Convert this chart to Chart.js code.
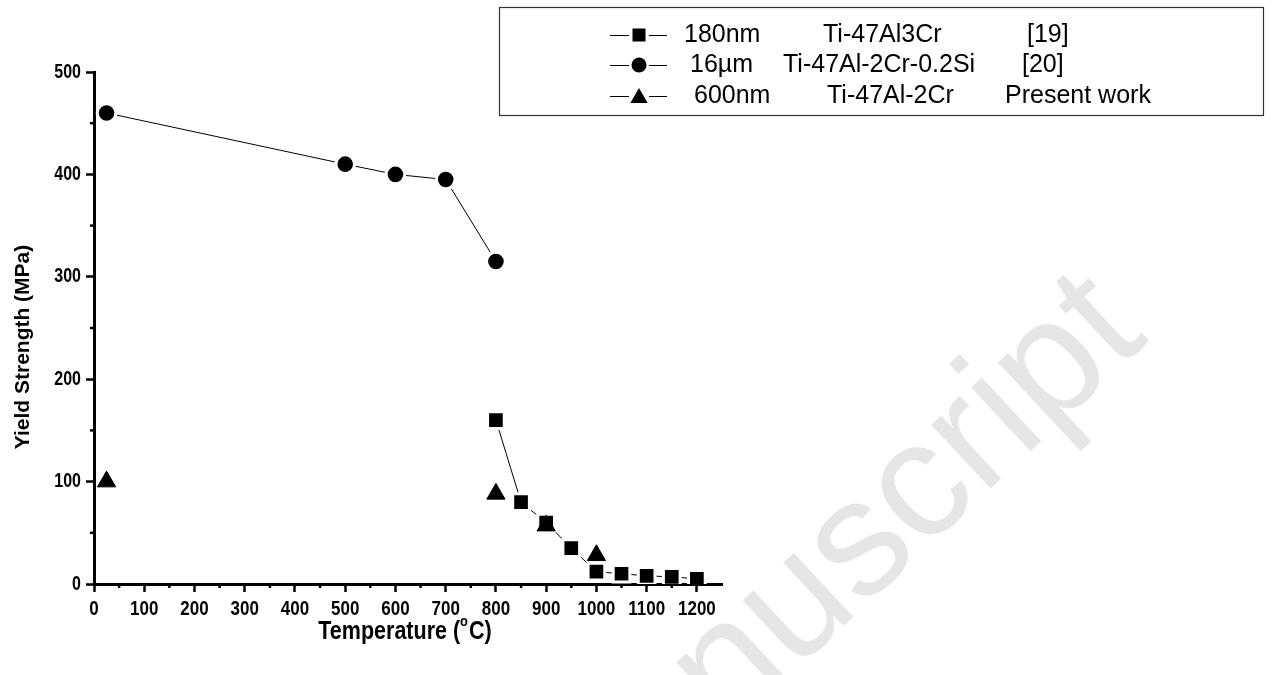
<!DOCTYPE html>
<html>
<head>
<meta charset="utf-8">
<script src="https://cdn.jsdelivr.net/npm/chart.js@4.4.1/dist/chart.umd.min.js"></script>
<style>
  html, body { margin: 0; padding: 0; background: #fff; }
  #wrap { position: relative; width: 1279px; height: 675px; }
</style>
</head>
<body>
<div id="wrap"><canvas id="yieldChart" width="1279" height="675"></canvas></div>
<script>
// valores
const temp180nm = [800, 850, 900, 950, 1000, 1050, 1100, 1150, 1200];
const ys180nm = [160, 80, 60, 35, 12, 10, 8, 7, 5];

const temp16um = [25, 500, 600, 700, 800];
const ys16um = [460, 410, 400, 395, 315];

const temp600nm = [25, 800, 900, 1000];
const ys600nm = [100, 88, 57, 28];

const xTicks = [0, 100, 200, 300, 400, 500, 600, 700, 800, 900, 1000, 1100, 1200];
const yTicks = [0, 100, 200, 300, 400, 500];

const sizeLabels = ['180nm', '16\u00b5m', '600nm'];
const alloyLabels = ['Ti-47Al3Cr', 'Ti-47Al-2Cr-0.2Si', 'Ti-47Al-2Cr'];
const refLabels = ['[19]', '[20]', 'Present work'];
const markerStyles = ['rect', 'circle', 'triangle'];

const FONT = '"Liberation Sans", Arial, Helvetica, sans-serif';
Chart.defaults.font.family = FONT;
Chart.defaults.color = '#000';

const toPoints = (xs, ys) => xs.map((x, i) => ({ x: x, y: ys[i] }));

// texto comprimido na horizontal (rótulos do Origin parecem "narrow")
function narrowText(ctx, text, x, y, sx, align) {
    ctx.save();
    ctx.translate(x, y);
    ctx.scale(sx, 1);
    ctx.textAlign = align;
    ctx.fillText(text, 0, 0);
    ctx.restore();
}

// marca d'agua, ticks menores, rótulos, títulos e legenda
const extras = {
    id: 'extras',
    beforeDraw(chart) {
        const ctx = chart.ctx;
        ctx.save();
        ctx.fillStyle = '#fff';
        ctx.fillRect(0, 0, chart.width, chart.height);
        ctx.translate(1150, 340);
        ctx.rotate(-43 * Math.PI / 180);
        ctx.font = '165px ' + FONT;
        ctx.fillStyle = '#e6e6e6';
        ctx.textAlign = 'right';
        ctx.textBaseline = 'alphabetic';
        ctx.fillText('Accepted Manuscript', 0, 0);
        ctx.restore();
    },
    afterDraw(chart) {
        const ctx = chart.ctx;
        const xs = chart.scales.x, ys = chart.scales.y;
        ctx.save();
        ctx.strokeStyle = '#000';
        ctx.lineWidth = 2.5;
        // ticks menores
        for (let v = 50; v < 1250; v += 100) {
            const px = xs.getPixelForValue(v);
            ctx.beginPath();
            ctx.moveTo(px, xs.top);
            ctx.lineTo(px, xs.top + 4);
            ctx.stroke();
        }
        for (let v = 50; v < 500; v += 100) {
            const py = ys.getPixelForValue(v);
            ctx.beginPath();
            ctx.moveTo(ys.right, py);
            ctx.lineTo(ys.right - 4, py);
            ctx.stroke();
        }

        // rótulos dos ticks
        ctx.fillStyle = '#000';
        ctx.textBaseline = 'middle';
        ctx.font = 'bold 20px ' + FONT;
        xTicks.forEach(v => narrowText(ctx, String(v), xs.getPixelForValue(v), 609, 0.85, 'center'));
        ctx.font = 'bold 20px ' + FONT;
        yTicks.forEach(v => narrowText(ctx, String(v), ys.right - 13, ys.getPixelForValue(v), 0.8, 'right'));

        // título do eixo X com "o" sobrescrito
        const cx = (chart.chartArea.left + chart.chartArea.right) / 2 - 3;
        const sx = 0.86;
        ctx.font = 'bold 25px ' + FONT;
        const partA = 'Temperature (', partC = 'C)';
        const wA = ctx.measureText(partA).width * sx;
        const wC = ctx.measureText(partC).width * sx;
        ctx.font = 'bold 15px ' + FONT;
        const wO = ctx.measureText('o').width * sx + 1;
        const x0 = cx - (wA + wO + wC) / 2;
        ctx.font = 'bold 25px ' + FONT;
        narrowText(ctx, partA, x0, 632, sx, 'left');
        ctx.font = 'bold 15px ' + FONT;
        narrowText(ctx, 'o', x0 + wA, 622, sx, 'left');
        ctx.font = 'bold 25px ' + FONT;
        narrowText(ctx, partC, x0 + wA + wO, 632, sx, 'left');

        // título do eixo Y
        ctx.save();
        ctx.translate(23, 347);
        ctx.rotate(-Math.PI / 2);
        ctx.font = 'bold 21px ' + FONT;
        ctx.textAlign = 'center';
        ctx.fillText('Yield Strength (MPa)', 0, 0);
        ctx.restore();

        // legenda
        ctx.lineWidth = 1.2;
        ctx.strokeStyle = '#333';
        ctx.strokeRect(499.5, 7.5, 764, 108);
        const rowY = [35, 65, 96];
        const col1 = [684, 690, 694];
        const col2 = [823, 783, 827];
        const col3 = [1027, 1022, 1005];
        ctx.font = '25px ' + FONT;
        ctx.textAlign = 'left';
        for (let i = 0; i < 3; i++) {
            const y = rowY[i];
            ctx.strokeStyle = '#000';
            ctx.lineWidth = 1;
            ctx.beginPath();
            ctx.moveTo(610, y + 0.5); ctx.lineTo(629, y + 0.5);
            ctx.moveTo(649, y + 0.5); ctx.lineTo(667, y + 0.5);
            ctx.stroke();
            Chart.helpers.drawPoint(ctx, {
                pointStyle: markerStyles[i],
                radius: markerStyles[i] === 'rect' ? 9.2 : (markerStyles[i] === 'circle' ? 7.5 : 10),
                rotation: 0,
                borderWidth: 0
            }, 639, y + (markerStyles[i] === 'triangle' ? 2 : 0));
            ctx.fillText(sizeLabels[i], col1[i], y);
            ctx.fillText(alloyLabels[i], col2[i], y);
            ctx.fillText(refLabels[i], col3[i], y);
        }
        ctx.restore();
    }
};

new Chart(document.getElementById('yieldChart'), {
    type: 'scatter',
    data: {
        datasets: [
            {
                label: '600nm',
                data: toPoints(temp600nm, ys600nm),
                showLine: false,
                pointStyle: 'triangle',
                pointRadius: 10.5,
                pointBackgroundColor: '#000',
                pointBorderColor: '#000',
                pointBorderWidth: 1
            },
            {
                label: '180nm',
                data: toPoints(temp180nm, ys180nm),
                showLine: true,
                borderColor: '#000',
                borderWidth: 1,
                pointStyle: 'rect',
                pointRadius: 11.8,
                pointBackgroundColor: '#000',
                pointBorderColor: '#fff',
                pointBorderWidth: 3
            },
            {
                label: '16um',
                data: toPoints(temp16um, ys16um),
                showLine: true,
                borderColor: '#000',
                borderWidth: 1,
                pointStyle: 'circle',
                pointRadius: 9.3,
                pointBackgroundColor: '#000',
                pointBorderColor: '#fff',
                pointBorderWidth: 3
            }
        ]
    },
    plugins: [extras],
    options: {
        responsive: false,
        animation: false,
        layout: { padding: { left: 0, top: 72, right: 557, bottom: 0 } },
        plugins: { legend: { display: false }, tooltip: { enabled: false } },
        scales: {
            x: {
                type: 'linear',
                min: 0,
                max: 1250,
                afterBuildTicks: (scale) => { scale.ticks = xTicks.map(v => ({ value: v })); },
                afterFit: (scale) => { scale.height = 91; },
                border: { color: '#000', width: 3 },
                grid: { drawOnChartArea: false, color: '#000', tickLength: 8, tickWidth: 2.5 },
                ticks: { display: false, autoSkip: false },
                title: { display: false }
            },
            y: {
                type: 'linear',
                min: 0,
                max: 500,
                afterBuildTicks: (scale) => { scale.ticks = yTicks.map(v => ({ value: v })); },
                afterFit: (scale) => { scale.width = 94; },
                border: { color: '#000', width: 3 },
                grid: { drawOnChartArea: false, color: '#000', tickLength: 8, tickWidth: 2.5 },
                ticks: { display: false, autoSkip: false },
                title: { display: false }
            }
        }
    }
});
</script>
</body>
</html>
